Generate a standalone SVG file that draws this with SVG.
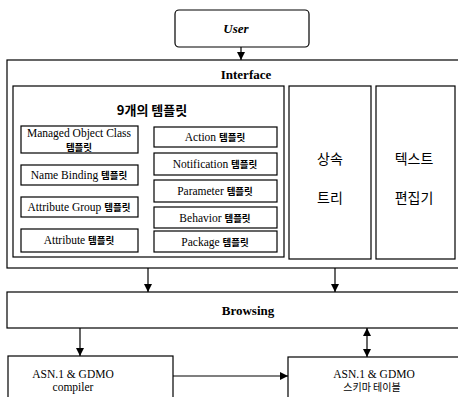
<svg xmlns="http://www.w3.org/2000/svg" width="458" height="397" viewBox="0 0 458 397">
<defs>
<marker id="ah" viewBox="0 0 10 10" refX="10" refY="5" markerWidth="8" markerHeight="8" markerUnits="userSpaceOnUse" orient="auto-start-reverse">
<path d="M0,0 L10,5 L0,10 z" fill="#000"/>
</marker>
<style>
.b{fill:#fff;stroke:#000;stroke-width:1.2}
.e{font-family:"Liberation Serif","Noto Sans CJK KR",serif;font-size:11.5px;fill:#000;text-anchor:middle}
.k{font-family:"Noto Sans CJK KR","Liberation Sans",sans-serif;fill:#000;text-anchor:middle}
.h{font-family:"Liberation Serif",serif;font-weight:bold;font-size:13px;fill:#000;text-anchor:middle}
.c{stroke:#000;stroke-width:1.2;fill:none}
</style>
</defs>
<rect width="458" height="397" fill="#fff"/>
<g id="user">
<rect class="b" x="175" y="10" width="134" height="37" rx="4"/>
<text class="h" x="236" y="33" font-size="15" font-style="italic">User</text>
</g>
<g id="interface">
<rect class="b" x="7" y="60" width="455" height="208"/>
<text class="h" x="246" y="79">Interface</text>
</g>
<g id="templates">
<rect class="b" x="13" y="86" width="271" height="171"/>
<text class="k" x="152" y="115" font-size="13" font-weight="bold">9개의 템플릿</text>
</g>
<g id="t-moc">
<rect class="b" x="21" y="126" width="117" height="27"/>
<text class="e" x="79" y="137">Managed Object Class</text>
<text class="k" x="79" y="151" font-size="9.5" font-weight="bold">템플릿</text>
</g>
<g id="t-nb">
<rect class="b" x="21" y="165" width="117" height="20"/>
<text class="e" x="79" y="179">Name Binding <tspan class="k" font-size="9.5" font-weight="bold">템플릿</tspan></text>
</g>
<g id="t-ag">
<rect class="b" x="21" y="197" width="117" height="20"/>
<text class="e" x="79" y="211">Attribute Group <tspan class="k" font-size="9.5" font-weight="bold">템플릿</tspan></text>
</g>
<g id="t-attr">
<rect class="b" x="21" y="229" width="117" height="23"/>
<text class="e" x="79" y="244">Attribute  <tspan class="k" font-size="9.5" font-weight="bold">템플릿</tspan></text>
</g>
<g id="t-action">
<rect class="b" x="154" y="127" width="123" height="20"/>
<text class="e" x="215" y="141">Action  <tspan class="k" font-size="9.5" font-weight="bold">템플릿</tspan></text>
</g>
<g id="t-notif">
<rect class="b" x="154" y="153" width="123" height="22"/>
<text class="e" x="215" y="168">Notification  <tspan class="k" font-size="9.5" font-weight="bold">템플릿</tspan></text>
</g>
<g id="t-param">
<rect class="b" x="154" y="180" width="123" height="22"/>
<text class="e" x="215" y="195">Parameter  <tspan class="k" font-size="9.5" font-weight="bold">템플릿</tspan></text>
</g>
<g id="t-behav">
<rect class="b" x="154" y="207" width="123" height="21"/>
<text class="e" x="215" y="222">Behavior  <tspan class="k" font-size="9.5" font-weight="bold">템플릿</tspan></text>
</g>
<g id="t-pkg">
<rect class="b" x="154" y="231" width="123" height="21"/>
<text class="e" x="215" y="246">Package  <tspan class="k" font-size="9.5" font-weight="bold">템플릿</tspan></text>
</g>
<g id="tree">
<rect class="b" x="289" y="86" width="82" height="173"/>
<text class="k" x="330" y="164" font-size="14">상속</text>
<text class="k" x="330" y="203" font-size="14">트리</text>
</g>
<g id="editor">
<rect class="b" x="376" y="86" width="79" height="173"/>
<text class="k" x="414" y="164" font-size="14">텍스트</text>
<text class="k" x="414" y="203" font-size="14">편집기</text>
</g>
<g id="browsing">
<rect class="b" x="7" y="292" width="455" height="36"/>
<text class="h" x="248" y="315" font-size="14">Browsing</text>
</g>
<g id="compiler">
<rect class="b" x="8" y="356" width="165" height="45"/>
<text class="e" x="73" y="378" font-size="10.5">ASN.1 &amp; GDMO</text>
<text class="e" x="73" y="391" font-size="10.5">compiler</text>
</g>
<g id="schema">
<rect class="b" x="288" y="357" width="175" height="45"/>
<text class="e" x="374" y="378" font-size="10.5">ASN.1 &amp; GDMO</text>
<text class="k" x="372" y="391" font-size="10">스키마 테이블</text>
</g>
<g id="connectors">
<line class="c" x1="241" y1="47" x2="241" y2="60" marker-end="url(#ah)"/>
<line class="c" x1="148" y1="268" x2="148" y2="292" marker-end="url(#ah)"/>
<line class="c" x1="335" y1="268" x2="335" y2="292" marker-end="url(#ah)"/>
<line class="c" x1="80" y1="328" x2="80" y2="356" marker-end="url(#ah)"/>
<line class="c" x1="367" y1="328" x2="367" y2="357" marker-start="url(#ah)" marker-end="url(#ah)"/>
<line class="c" x1="173" y1="376" x2="288" y2="376" marker-end="url(#ah)"/>
</g>
</svg>
